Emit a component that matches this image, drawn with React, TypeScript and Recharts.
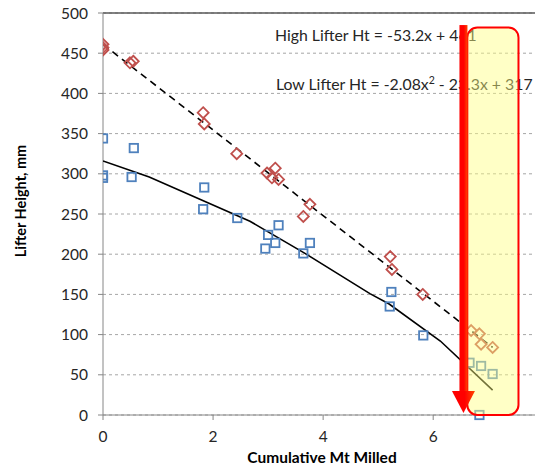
import { CartesianGrid, Customized, ReferenceArea, ReferenceLine, Scatter, ScatterChart, XAxis, YAxis } from 'recharts'

const FONT = 'Lato, "Liberation Sans", sans-serif'

// High lifter (red diamonds)
const highX = [0, 0, 0, 0.49, 0.55, 1.82, 1.84, 2.43, 2.98, 3.07, 3.13, 3.19, 3.64, 3.76, 5.22, 5.25, 5.81, 6.69, 6.84, 6.87, 7.08]
const highY = [461, 457, 454, 438, 440, 376, 362, 325, 301, 295, 307, 293, 247, 262, 197, 181, 150, 105, 101, 88, 84]

// Low lifter (blue squares)
const lowX = [0, 0, 0, 0.52, 0.56, 1.82, 1.84, 2.44, 2.95, 3.0, 3.13, 3.19, 3.64, 3.76, 5.21, 5.24, 5.82, 6.66, 6.84, 6.87, 7.08]
const lowY = [344, 298, 295, 296, 332, 256, 283, 245, 207, 224, 214, 236, 201, 214, 135, 153, 99, 65, 0, 61, 51]

// trend lines
const highFitX = [0, 7.08]
const highFitY = [461, 84]
const lowFitX = [0, 0.84, 2.67, 3.67, 4.85, 5.2, 6.13, 7.08]
const lowFitY = [316, 296, 241, 201, 151, 138, 92, 31]

const xTicks = [0, 2, 4, 6]
const yTicks = [0, 50, 100, 150, 200, 250, 300, 350, 400, 450, 500]

const highEq = 'High Lifter Ht = -53.2x + 461'
const lowEqParts = ['Low Lifter Ht = -2.08x', '2', ' - 23.3x + 317']

const zip = (xs: number[], ys: number[]) => xs.map((x, i) => ({ x, y: ys[i] }))
const highPoints = zip(highX, highY)
const lowPoints = zip(lowX, lowY)
const highFit = zip(highFitX, highFitY)
const lowFit = zip(lowFitX, lowFitY)

function Diamond(props: any) {
  const { cx, cy } = props
  const r = 5.5
  return (
    <polygon
      points={`${cx},${cy - r} ${cx + r},${cy} ${cx},${cy + r} ${cx - r},${cy}`}
      fill="none"
      stroke="#c0504d"
      strokeWidth={1.8}
    />
  )
}

function Square(props: any) {
  const { cx, cy } = props
  const s = 4.2
  return <rect x={cx - s} y={cy - s} width={s * 2} height={s * 2} fill="none" stroke="#4f81bd" strokeWidth={1.8} />
}

const NoDot = () => <g />

function Box(props: any) {
  const { x, y, width, height } = props
  return (
    <rect x={x} y={y} width={width} height={height} rx={10} ry={10}
      fill="#ffff80" fillOpacity={0.45} stroke="#ff0000" strokeWidth={2} />
  )
}

function Arrow(props: any) {
  const { x1, y1, y2 } = props
  const top = Math.min(y1, y2)
  const tip = Math.max(y1, y2)
  const headH = 22
  const headW = 11.5
  const shaft = 4
  return (
    <g>
      <defs>
        <linearGradient id="arrowGrad" x1="0" x2="1" y1="0" y2="0">
          <stop offset="0" stopColor="#ff0000" />
          <stop offset="0.55" stopColor="#ff0000" />
          <stop offset="1" stopColor="#ff4500" />
        </linearGradient>
      </defs>
      <rect x={x1 - shaft} y={top} width={shaft * 2} height={tip - top - headH} fill="url(#arrowGrad)" />
      <polygon points={`${x1 - headW},${tip - headH} ${x1 + headW},${tip - headH} ${x1},${tip}`} fill="url(#arrowGrad)" />
    </g>
  )
}

function Annotations() {
  return (
    <g fontFamily={FONT} fill="#262626">
      <text x={275} y={41} fontSize={15.8}>{highEq}</text>
      <text x={276} y={90} fontSize={15.8}>
        {lowEqParts[0]}
        <tspan fontSize={10.5} dy={-6}>{lowEqParts[1]}</tspan>
        <tspan dy={6}>{lowEqParts[2]}</tspan>
      </text>
      <text x={22} y={201} fontSize={14.5} fontWeight="bold" fill="#000" textAnchor="middle"
        transform="rotate(-90 22 201)" dominantBaseline="middle">Lifter Height, mm</text>
      <text x={322} y={459} fontSize={15.5} fontWeight="bold" fill="#000" textAnchor="middle"
        dominantBaseline="middle">Cumulative Mt Milled</text>
    </g>
  )
}

export default function App() {
  return (
    <div style={{ position: 'absolute', left: 0, top: 0, background: '#fff' }}>
      <ScatterChart width={535} height={474} margin={{ top: 13, right: 0, bottom: 0, left: 0 }}>
        <CartesianGrid vertical={false} strokeDasharray="3 3" stroke="#a6a6a6" />
        <XAxis type="number" dataKey="x" domain={[0, 7.85]} ticks={xTicks} allowDataOverflow height={59}
          axisLine={{ stroke: '#868686' }} tickLine={{ stroke: '#868686' }} tickSize={5} tickMargin={11}
          tick={{ fill: '#262626', fontSize: 15.5, fontFamily: FONT }} />
        <YAxis type="number" dataKey="y" domain={[0, 500]} ticks={yTicks} width={103}
          axisLine={{ stroke: '#868686' }} tickLine={{ stroke: '#868686' }} tickSize={5} tickMargin={10}
          tick={{ fill: '#262626', fontSize: 15.5, fontFamily: FONT }} />
        <ReferenceLine y={500} stroke="#595959" strokeWidth={1.3} />
        <Scatter data={highFit} line={{ stroke: '#000', strokeWidth: 1.6, strokeDasharray: '7 5' }} shape={NoDot} isAnimationActive={false} />
        <Scatter data={lowFit} line={{ stroke: '#000', strokeWidth: 1.6 }} shape={NoDot} isAnimationActive={false} />
        <Scatter data={highPoints} shape={Diamond} isAnimationActive={false} />
        <Scatter data={lowPoints} shape={Square} isAnimationActive={false} />
        <Customized component={Annotations} />
        <ReferenceArea x1={6.62} x2={7.55} y1={0} y2={482} shape={Box} ifOverflow="visible" zIndex={700} />
        <ReferenceLine segment={[{ x: 6.55, y: 485 }, { x: 6.55, y: 2.5 }]} shape={Arrow} ifOverflow="visible" zIndex={800} />
      </ScatterChart>
    </div>
  )
}
